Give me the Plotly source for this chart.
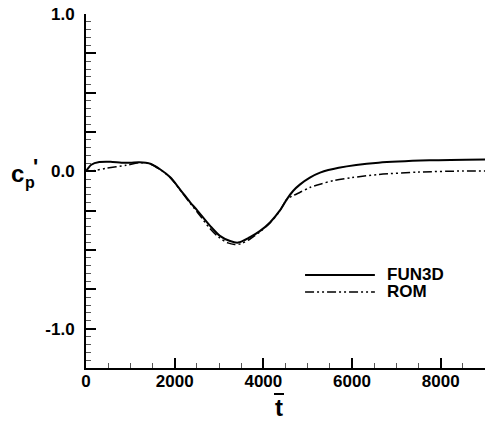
import plotly.graph_objects as go

fun3d_t = [0, 120, 300, 550, 800, 1000, 1200, 1450, 1670, 1900, 2120, 2350, 2500, 2800, 3020,
           3250, 3430, 3700, 3920, 4150, 4370, 4530, 4670, 4830, 5050, 5280, 5700, 6600, 7750, 9000]
fun3d_cp = [0.0, 0.042, 0.059, 0.061, 0.055, 0.054, 0.057, 0.048, 0.013, -0.038, -0.114, -0.197,
            -0.245, -0.347, -0.41, -0.443, -0.453, -0.418, -0.38, -0.325, -0.25, -0.178, -0.125,
            -0.083, -0.04, -0.008, 0.023, 0.055, 0.07, 0.076]

rom_t = [0, 200, 450, 900, 1220, 1450, 1670, 1900, 2120, 2350, 2500, 2800, 3000, 3200, 3350,
         3500, 3700, 3920, 4150, 4370, 4530, 4670, 4830, 5050, 5300, 5600, 6000, 6600, 7500,
         8500, 9000]
rom_cp = [0.0, 0.005, 0.019, 0.038, 0.055, 0.047, 0.012, -0.04, -0.117, -0.203, -0.255, -0.365,
          -0.42, -0.455, -0.465, -0.46, -0.43, -0.385, -0.328, -0.252, -0.178, -0.155, -0.133,
          -0.103, -0.08, -0.058, -0.04, -0.02, -0.005, 0.002, 0.002]

y_tickvals = [-1.25, -1.0, -0.75, -0.5, -0.25, 0.0, 0.25, 0.5, 0.75, 1.0]
y_ticktext = ["", "-1.0", "", "", "", "0.0", "", "", "", "1.0"]
x_tickvals = [0, 2000, 4000, 6000, 8000]
x_ticktext = ["0", "2000", "4000", "6000", "8000"]

series_names = ["FUN3D", "ROM"]
ROM_DASH = "9px,3px,2px,3px,2px,3px"


def bold(labels):
    return ["<b>%s</b>" % s if s else "" for s in labels]


fig = go.Figure()
fig.add_trace(go.Scatter(x=fun3d_t, y=fun3d_cp, mode="lines", name=series_names[0],
                         line=dict(color="black", width=2, shape="spline", smoothing=0.8),
                         showlegend=False))
fig.add_trace(go.Scatter(x=rom_t, y=rom_cp, mode="lines", name=series_names[1],
                         line=dict(color="black", width=1.5, shape="spline", smoothing=0.8,
                                   dash=ROM_DASH),
                         showlegend=False))

FONT = "Liberation Sans, Arial, sans-serif"
tickfont = dict(family=FONT, size=17, color="black")

fig.update_layout(
    width=485, height=423,
    margin=dict(l=86, r=0, t=14, b=55),
    paper_bgcolor="white", plot_bgcolor="white",
    font=dict(family=FONT, size=17, color="black"),
    xaxis=dict(range=[0, 9000], tickmode="array", tickvals=x_tickvals, ticktext=bold(x_ticktext),
               ticks="inside", ticklen=10, tickwidth=2, tickcolor="black",
               showline=True, linewidth=2, linecolor="black", showgrid=False, zeroline=False,
               ticklabelstandoff=-3, tickfont=tickfont,
               minor=dict(dtick=500, tick0=0, ticks="inside", ticklen=5, tickwidth=1,
                          tickcolor="#555555", showgrid=False)),
    yaxis=dict(range=[-1.25, 1.0], tickmode="array", tickvals=y_tickvals, ticktext=bold(y_ticktext),
               ticks="inside", ticklen=10, tickwidth=2, tickcolor="black",
               showline=True, linewidth=2, linecolor="black", showgrid=False, zeroline=False,
               ticklabelstandoff=6, tickfont=tickfont,
               minor=dict(dtick=0.05, tick0=0, ticks="inside", ticklen=5, tickwidth=1,
                          tickcolor="#555555", showgrid=False)),
)

# plot area in pixels: x 86..485, y 14..368
PX0, PW, PY0, PH = 86, 399, 368, 354


def add_px_text(text, px, py, size):
    fig.add_annotation(text="<b>%s</b>" % text, xref="paper", yref="paper", x=0, y=0,
                       xshift=px - PX0, yshift=PY0 - py, xanchor="center", yanchor="middle",
                       showarrow=False, font=dict(family=FONT, size=size, color="black"))

# y-axis title: c_p' (c, subscript p, prime above the p)
add_px_text("c", 17, 173, 24)
add_px_text("p", 30, 182, 16)
add_px_text("'", 35, 166, 22)

# x-axis title: t with an overbar
add_px_text("t", 279, 407, 24)
fig.add_shape(type="line", xref="paper", yref="paper",
              x0=(274 - PX0) / PW, x1=(284 - PX0) / PW,
              y0=(PY0 - 394) / PH, y1=(PY0 - 394) / PH,
              line=dict(color="black", width=2))

# legend (drawn manually to match long sample lines)
leg_x0, leg_x1 = 0.549, 0.724
leg_y = [0.263, 0.215]
styles = [dict(color="black", width=2), dict(color="black", width=1.5, dash=ROM_DASH)]
for name, yy, st in zip(series_names, leg_y, styles):
    fig.add_shape(type="line", xref="paper", yref="paper", x0=leg_x0, x1=leg_x1, y0=yy, y1=yy,
                  line=st)
    fig.add_annotation(text="<b>%s</b>" % name, xref="paper", yref="paper", x=leg_x1 + 0.025,
                       y=yy, xanchor="left", yanchor="middle", showarrow=False,
                       font=dict(family=FONT, size=17, color="black"))

fig.write_html("out.html")
